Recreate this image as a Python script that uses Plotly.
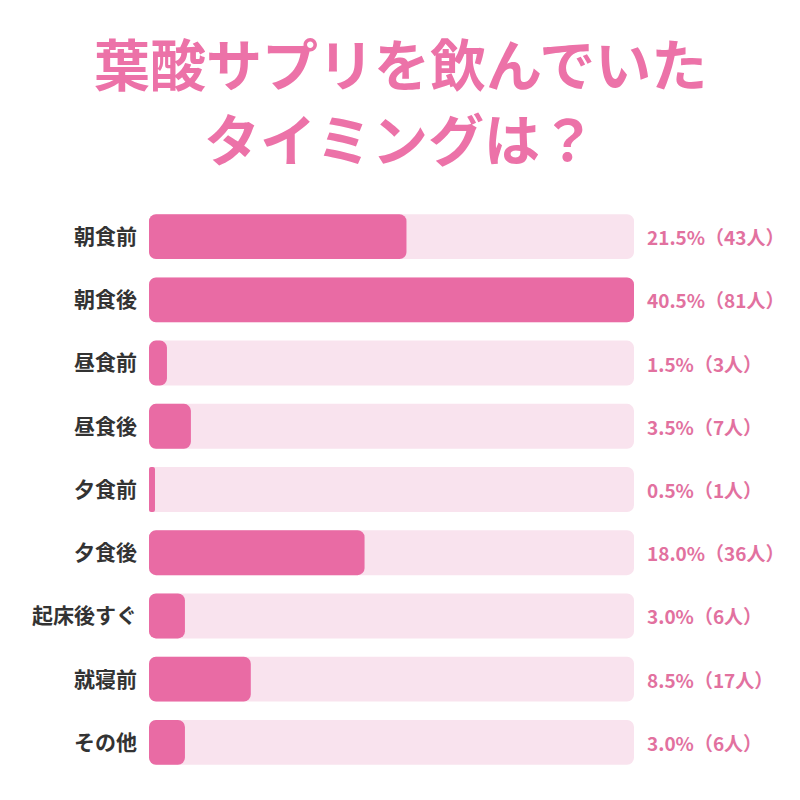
import plotly.graph_objects as go

# data
timings = ['朝食前', '朝食後', '昼食前', '昼食後', '夕食前', '夕食後', '起床後すぐ', '就寝前', 'その他']
percents = [21.5, 40.5, 1.5, 3.5, 0.5, 18.0, 3.0, 8.5, 3.0]
counts = [43, 81, 3, 7, 1, 36, 6, 17, 6]
title_lines = ['葉酸サプリを飲んでいた', 'タイミングは？']

bar_color = '#E96BA4'
track_color = '#F9E3EE'
max_val = max(percents)

fig = go.Figure()

# background track, then the actual share on top
fig.add_trace(go.Bar(
    y = timings, x = [max_val] * len(timings), base = [0] * len(timings),
    orientation = 'h',
    marker = dict(color = track_color, cornerradius = 7, line = dict(width = 0)),
    hoverinfo = 'skip', showlegend = False))
fig.add_trace(go.Bar(
    y = timings, x = percents, base = [0] * len(timings),
    orientation = 'h',
    marker = dict(color = bar_color, cornerradius = 7, line = dict(width = 0)),
    hoverinfo = 'skip', showlegend = False))

for t, p, c in zip(timings, percents, counts):
    fig.add_annotation(
        x = 1, xref = 'paper', y = t, yref = 'y',
        xanchor = 'left', xshift = 11,
        text = f'{p:.1f}%（{c}人）',
        showarrow = False,
        font = dict(family = 'Noto Sans CJK JP', size = 19, color = '#E2719F', weight = 'bold'))

# title as two centred lines above the plot
for line, ty in zip(title_lines, [1.253, 1.121]):
    fig.add_annotation(
        x = 0.5, xref = 'paper', y = ty, yref = 'paper',
        xanchor = 'center', yanchor = 'middle', xshift = 8.5,
        text = line, showarrow = False,
        font = dict(family = 'Noto Sans CJK JP', size = 56, color = '#EC72A8', weight = 'bold'))

# page body adds 8px, so margins are a bit smaller than the picture's
fig.update_layout(
    width = 800, height = 800,
    barmode = 'overlay',
    bargap = 0.29,
    paper_bgcolor = 'white', plot_bgcolor = 'white',
    margin = dict(l = 141, r = 174, t = 197, b = 34, autoexpand = False),
    xaxis = dict(range = [0, max_val], visible = False, fixedrange = True),
    yaxis = dict(
        autorange = 'reversed', automargin = False,
        showgrid = False, zeroline = False, showline = False,
        ticks = '', ticklabelstandoff = 11,
        tickfont = dict(family = 'Noto Sans CJK JP', size = 21, color = '#333333', weight = 'bold')),
)

fig.write_html('out.html')
